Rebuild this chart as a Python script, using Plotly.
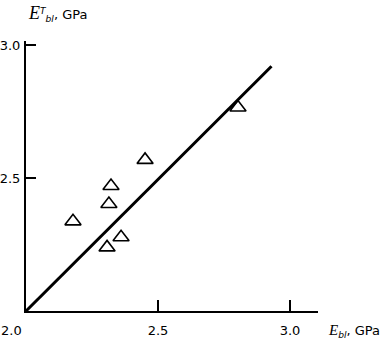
import plotly.graph_objects as go

# Data
x_vals = [2.803, 2.451, 2.322, 2.314, 2.178, 2.360, 2.307]
y_vals = [2.765, 2.568, 2.470, 2.402, 2.337, 2.277, 2.239]
line_x = [2.0, 2.93]
line_y = [2.0, 2.92]
x_ticks = [2.5, 3.0]
y_ticks = [2.5, 3.0]
tick_text = ["2.5", "3.0"]
origin_label = "2.0"

fig = go.Figure()
fig.add_trace(go.Scatter(x=line_x, y=line_y, mode="lines",
                         line=dict(color="black", width=3), showlegend=False))
fig.add_trace(go.Scatter(x=x_vals, y=y_vals, mode="markers",
                         marker=dict(symbol="triangle-up-open", size=14,
                                     color="black", line=dict(width=1.6, color="black")),
                         showlegend=False))

W, H = 383, 340
L, R, T, B = 26, 65, 41, 29
pw, ph = W - L - R, H - T - B

def px(x):
    return (x - L) / pw

def py(y):
    return (H - B - y) / ph

fig.update_layout(
    width=W, height=H,
    margin=dict(l=L, r=R, t=T, b=B),
    plot_bgcolor="white", paper_bgcolor="white",
    font=dict(family="DejaVu Sans", size=13, color="black"),
    xaxis=dict(range=[2.0, 3.106], showline=True, linecolor="black", linewidth=2,
               showgrid=False, zeroline=False, ticks="inside", ticklen=11,
               tickwidth=2, tickcolor="black", tickvals=x_ticks, ticktext=tick_text,
               ticklabelstandoff=6, automargin=False),
    yaxis=dict(range=[2.0, 3.015], showline=True, linecolor="black", linewidth=2,
               showgrid=False, zeroline=False, ticks="inside", ticklen=10,
               tickwidth=2, tickcolor="black", tickvals=y_ticks, ticktext=tick_text,
               ticklabelstandoff=1, automargin=False),
    annotations=[
        dict(text=origin_label, xref="paper", yref="paper", x=px(11), y=py(331),
             xanchor="center", yanchor="middle", showarrow=False,
             font=dict(size=13)),
        dict(text='<span style="font-family:Liberation Serif;font-size:18px"><i>E</i></span>'
                  '<sup><i>T</i></sup><sub><i>bl</i></sub>, GPa',
             xref="paper", yref="paper", x=px(26), y=py(13),
             xanchor="left", yanchor="middle", showarrow=False, font=dict(size=13)),
        dict(text='<span style="font-family:Liberation Serif;font-size:15px"><i>E</i></span>'
                  '<sub><i>bl</i></sub>, GPa',
             xref="paper", yref="paper", x=px(326), y=py(331),
             xanchor="left", yanchor="middle", showarrow=False, font=dict(size=13)),
    ],
)

fig.write_html("out.html",
               config={"displayModeBar": False},
               post_script="document.body.style.margin='0px';"
                           "document.body.style.overflow='hidden';")
